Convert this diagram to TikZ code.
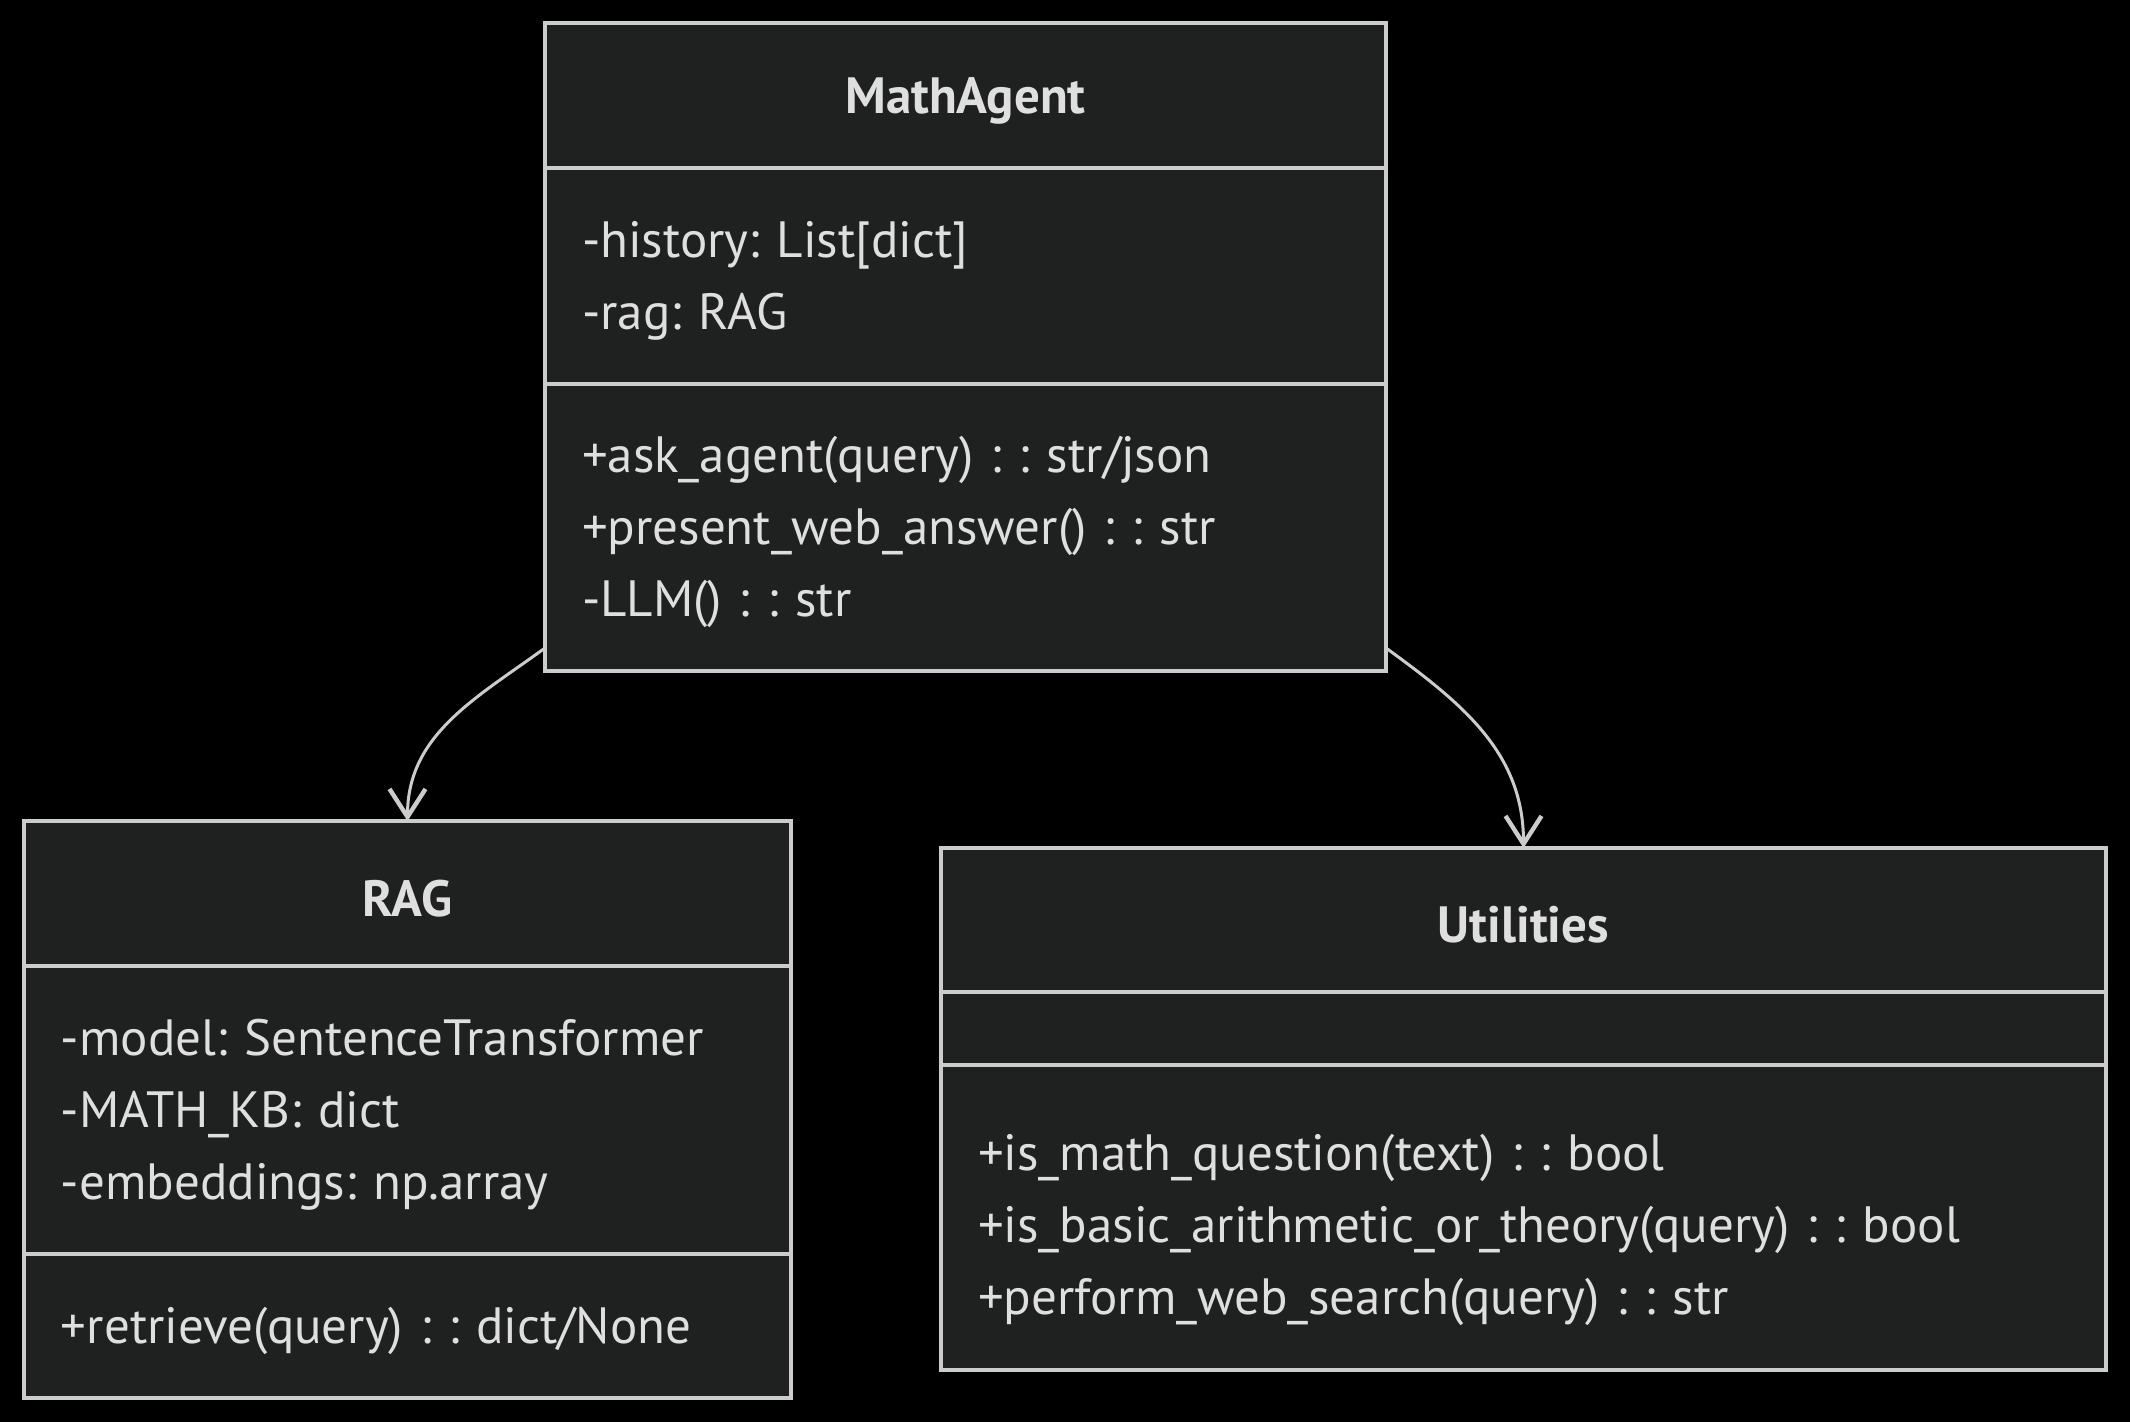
\documentclass[tikz,border=0pt]{standalone}
\usepackage{fontspec}
\setmainfont{PT Sans}
\usetikzlibrary{positioning}
\usetikzlibrary{calc}
\usetikzlibrary{arrows.meta}
\definecolor{boxfill}{HTML}{1F2020}
\definecolor{boxline}{HTML}{CCCCCC}
\definecolor{boxtext}{HTML}{E0DFDF}
\frenchspacing

\begin{document}
\begin{tikzpicture}[x=0.5pt,y=0.5pt,
	classpart/.style={draw=boxline, fill=boxfill, line width=1.7pt, outer sep=0pt, inner xsep=18.5pt, inner ysep=0pt, text height=23pt, text=boxtext, font=\fontsize{25.5}{36}\selectfont, align=left},
	classname/.style={classpart, align=center, font=\fontsize{25.5}{36}\selectfont\bfseries},
	assoc/.style={draw=boxline, line width=1.5pt, -{Straight Barb[length=14pt,width=18pt,line width=2.2pt]}}]
	
	\fill[black] (0,0) rectangle (2130,-1422);
	\useasboundingbox (0,0) rectangle (2130,-1422);
	
	% MathAgent
	\node[classname, text width=383.5pt, minimum height=72.5pt] at (965.5,-95.5) (agent) {MathAgent};
	\node[classpart, text width=383.5pt, minimum height=108pt, below=0pt of agent] (agentattr) {-history: List[dict]\\-rag: RAG};
	\node[classpart, text width=383.5pt, minimum height=143.5pt, below=0pt of agentattr] (agentmeth) {+ask\_agent(query) : : str/json\\+present\_web\_answer() : : str\\-LLM() : : str};
	
	% RAG
	\node[classname, text width=346.5pt, minimum height=72.5pt] at (407.5,-893.5) (rag) {RAG};
	\node[classpart, text width=346.5pt, minimum height=144pt, below=0pt of rag] (ragattr) {-model: SentenceTransformer\\-MATH\_KB: dict\\-embeddings: np.array};
	\node[classpart, text width=346.5pt, minimum height=72pt, below=0pt of ragattr] (ragmeth) {+retrieve(query) : : dict/None};
	
	% Utilities
	\node[classname, text width=545.5pt, minimum height=72pt] at (1523.5,-920) (util) {Utilities};
	\node[classpart, text width=545.5pt, minimum height=36.5pt, below=0pt of util] (utilattr) {};
	\node[classpart, text width=545.5pt, minimum height=152.5pt, text height=31pt, below=0pt of utilattr] (utilmeth) {+is\_math\_question(text) : : bool\\+is\_basic\_arithmetic\_or\_theory(query) : : bool\\+perform\_web\_search(query) : : str};
	
	\draw[assoc] ($(agentmeth.south west)+(0,23)$) to[out=216,in=90] (rag.north);
	\draw[assoc] ($(agentmeth.south east)+(0,23)$) to[out=-36,in=90] (util.north);
	
\end{tikzpicture}
\end{document}
